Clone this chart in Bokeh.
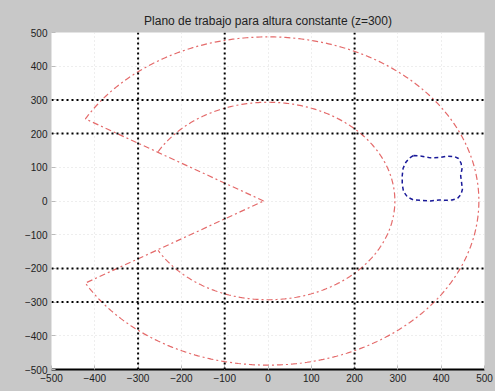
import numpy as np
from bokeh.plotting import figure
from bokeh.models import Span, FixedTicker, Range1d
from bokeh.embed import file_html
from bokeh.resources import INLINE

# ---- data ----
title_text = "Plano de trabajo para altura constante (z=300)"
x_ticks = [-500, -400, -300, -200, -100, 0, 100, 200, 300, 400, 500]
y_ticks = [-500, -400, -300, -200, -100, 0, 100, 200, 300, 400, 500]

# heavy black reference lines
vlines_x = [-300, -100, 200]
hlines_y = [300, 200, -200, -300]

# red workspace boundary (arcs about the origin)
outer_radius = 487
inner_radius = 293
arc_start_deg = 150
arc_end_deg = -150
vertex_x = -10
vertex_y = 0

# blue closed contour
blue_x = [336, 355, 375, 395, 414, 430, 440, 446, 448, 445, 447, 449, 446, 438,
          425, 410, 395, 375, 355, 336, 322, 313, 310, 310, 312, 318, 326, 336]
blue_y = [135, 133, 128, 129, 133, 132, 126, 112, 95, 75, 55, 35, 20, 8,
          3, 2, 3, 0, 2, 3, 12, 28, 50, 75, 97, 114, 127, 135]

# ---- figure ----
p = figure(width=495, height=391, output_backend="svg", toolbar_location=None,
           x_range=Range1d(-500, 500), y_range=Range1d(-500, 500),
           min_border_left=51, min_border_right=11, min_border_top=32,
           min_border_bottom=22)
p.background_fill_color = "white"
p.border_fill_color = "#c8c8c8"
p.outline_line_color = None

p.title.text = title_text
p.title.align = "center"
p.title.text_font = "Liberation Sans"
p.title.text_font_size = "12px"
p.title.text_font_style = "normal"
p.title.text_color = "#222222"

for ax, ticks in ((p.xaxis[0], x_ticks), (p.yaxis[0], y_ticks)):
    ax.ticker = FixedTicker(ticks=ticks)
    ax.major_tick_in = 4
    ax.major_tick_out = 0
    ax.minor_tick_line_color = None
    ax.major_label_text_font = "Liberation Sans"
    ax.major_label_text_font_size = "10px"
    ax.major_label_text_color = "#222222"
    ax.major_label_standoff = 4
p.xaxis.axis_line_color = "black"
p.xaxis.axis_line_width = 2
p.xaxis.major_tick_line_color = "#bbbbbb"
p.yaxis.axis_line_color = None
p.yaxis.major_tick_line_color = "#bbbbbb"

p.grid.grid_line_color = "#dddddd"
p.grid.grid_line_dash = "1 3"
p.grid.grid_line_width = 1

for xv in vlines_x:
    p.add_layout(Span(location=xv, dimension="height", line_color="black",
                      line_width=2, line_dash="2 3"))
for yv in hlines_y:
    p.add_layout(Span(location=yv, dimension="width", line_color="black",
                      line_width=2, line_dash="2 3"))

ang = np.deg2rad(np.linspace(arc_start_deg, arc_end_deg, 400))
ox = np.concatenate([[vertex_x], outer_radius * np.cos(ang), [vertex_x]])
oy = np.concatenate([[vertex_y], outer_radius * np.sin(ang), [vertex_y]])
ix = inner_radius * np.cos(ang)
iy = inner_radius * np.sin(ang)

red = "#e46a6a"
p.line(ox, oy, line_color=red, line_width=1.2, line_dash="6 3 2 3")
p.line(ix, iy, line_color=red, line_width=1.2, line_dash="6 3 2 3")
p.line(blue_x, blue_y, line_color="#1a1a99", line_width=1.5, line_dash="4 3")

html = file_html(p, INLINE)
css = "<style>html,body{margin:0 !important;padding:0 !important;background:#c8c8c8;overflow:hidden;}</style>"
html = html.replace("</head>", css + "</head>", 1)
open("out.html", "w").write(html)
